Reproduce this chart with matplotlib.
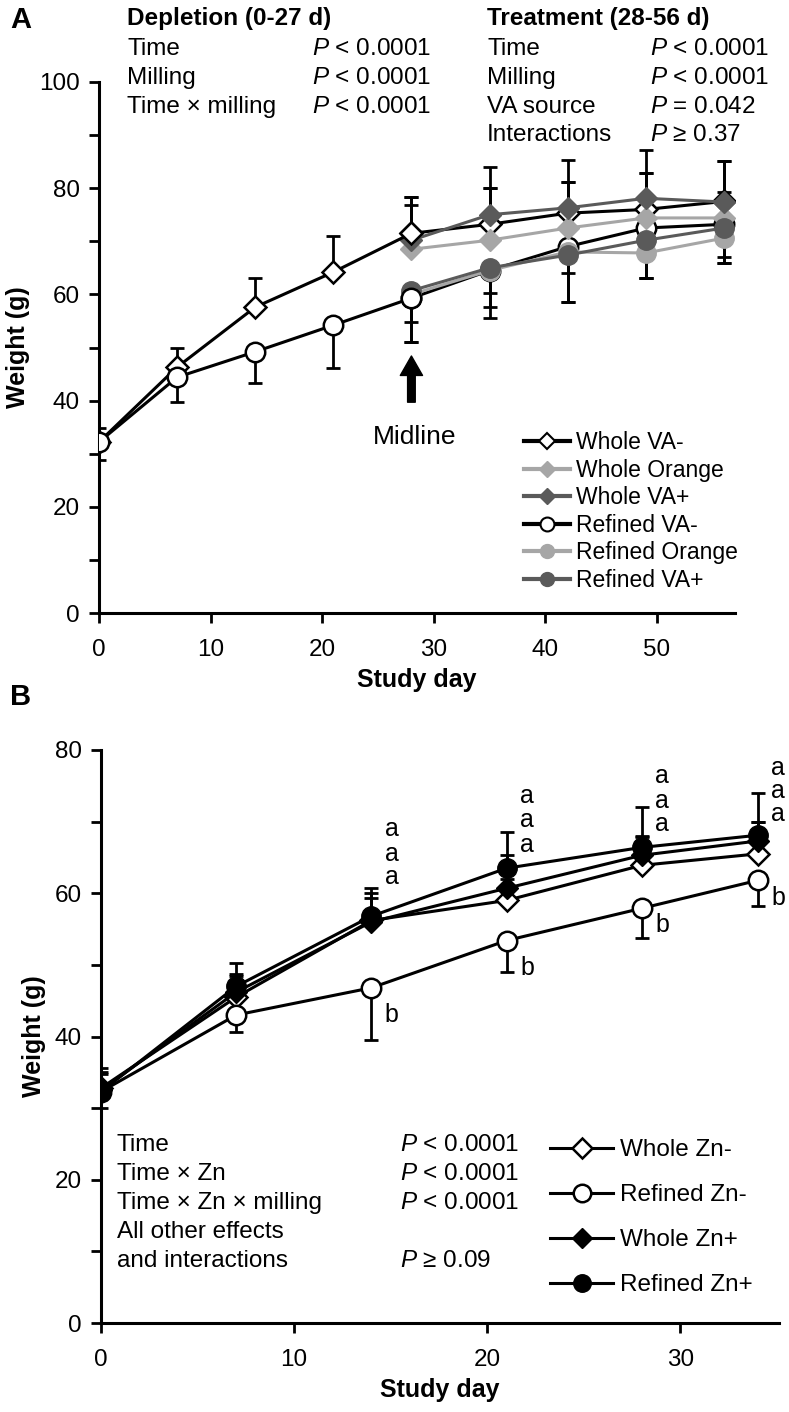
import numpy as np
import matplotlib
matplotlib.use("Agg")
import matplotlib.pyplot as plt

plt.rcParams['font.family'] = ['Liberation Sans', 'DejaVu Sans']
plt.rcParams['mathtext.fontset'] = 'custom'
plt.rcParams['mathtext.rm'] = 'Liberation Sans'
plt.rcParams['mathtext.it'] = 'Liberation Sans:italic'

# ---------------- Panel A data (VA study) ----------------
days_a = [0, 7, 14, 21, 28, 35, 42, 49, 56]
days_trt = [28, 35, 42, 49, 56]

whole_vam = [32.2, 46.3, 57.6, 64.2, 71.5, 73.2, 75.3, 76.0, 77.5]
whole_vam_err = [2.6, 3.7, 5.4, 6.8, 6.8, 6.8, 5.9, 6.9, 7.6]
refined_vam = [32.2, 44.4, 49.2, 54.2, 59.3, 64.5, 69.0, 72.5, 73.2]
refined_vam_err = [3.4, 4.7, 5.9, 8.1, 8.3, 9.0, 10.4, 9.5, 7.3]

whole_orange = [68.5, 70.2, 72.5, 74.4, 74.4]
whole_orange_err = [8.3, 9.8, 8.7, 8.5, 4.9]
whole_vap = [70.2, 75.0, 76.3, 78.1, 77.4]
whole_vap_err = [8.1, 9.0, 9.0, 9.1, 7.7]
refined_orange = [60.0, 64.5, 68.0, 67.8, 70.6]
refined_orange_err = [5.2, 6.8, 4.0, 4.8, 3.6]
refined_vap = [60.7, 65.0, 67.4, 70.2, 72.5]
refined_vap_err = [9.7, 4.8, 8.8, 7.2, 6.6]

# ---------------- Panel B data (Zn study) ----------------
days_b = [0, 7, 14, 21, 28, 34]
whole_znm = [32.8, 45.5, 56.2, 59.0, 63.9, 65.5]
whole_znm_err = [2.0, 3.0, 3.1, 3.0, 4.0, 4.4]
refined_znm = [32.3, 43.0, 46.8, 53.4, 57.9, 61.8]
refined_znm_err = [2.3, 2.4, 7.3, 4.4, 4.2, 3.6]
whole_znp = [32.5, 46.2, 56.0, 60.7, 65.3, 67.3]
whole_znp_err = [2.5, 2.5, 4.0, 4.6, 2.7, 2.6]
refined_znp = [32.3, 47.0, 56.8, 63.5, 66.4, 68.1]
refined_znp_err = [3.3, 3.3, 4.0, 5.0, 5.6, 5.9]

sig_days = [14, 21, 28, 34]
sig_a = [[69.0, 65.5, 62.2], [73.6, 70.2, 66.7], [76.4, 72.9, 69.7], [77.5, 74.3, 71.1]]
sig_b = [43.0, 49.5, 55.5, 59.4]

LIGHT = '#a6a6a6'
DARK = '#5a5a5a'
FS = 17.5

fig = plt.figure(figsize=(7.89, 14.12), dpi=100)


def fx(px):
    return px / 789


def fy(py):
    return 1 - py / 1412


axA = fig.add_axes([fx(99), fy(613), (735 - 99) / 789, (613 - 82) / 1412])
axB = fig.add_axes([fx(101), fy(1323), (779 - 101) / 789, (1323 - 750) / 1412])

# ---------------- Panel A ----------------
ebkw = dict(fmt='none', ecolor='black', elinewidth=2, capsize=5, capthick=2, zorder=1)
axA.errorbar(days_a, whole_vam, yerr=[np.zeros(len(days_a)), whole_vam_err], **ebkw)
axA.errorbar(days_a, refined_vam, yerr=[refined_vam_err, np.zeros(len(days_a))], **ebkw)
axA.errorbar(days_trt, whole_orange, yerr=[np.zeros(5), whole_orange_err], **ebkw)
axA.errorbar(days_trt, whole_vap, yerr=[np.zeros(5), whole_vap_err], **ebkw)
axA.errorbar(days_trt, refined_orange, yerr=[refined_orange_err, np.zeros(5)], **ebkw)
axA.errorbar(days_trt, refined_vap, yerr=[refined_vap_err, np.zeros(5)], **ebkw)

lw = 2.2
axA.plot(days_a[4:], whole_vam[4:], '-D', color='black', mfc='white', mec='black', mew=1.8, ms=11, lw=lw, zorder=3)
axA.plot(days_a[4:], refined_vam[4:], '-o', color='black', mfc='white', mec='black', mew=1.8, ms=14, lw=lw, zorder=3)
axA.plot(days_trt, whole_orange, '-D', color=LIGHT, mfc=LIGHT, mec=LIGHT, ms=11, lw=lw, zorder=3)
axA.plot(days_trt, refined_orange, '-o', color=LIGHT, mfc=LIGHT, mec=LIGHT, ms=14, lw=lw, zorder=3)
axA.plot(days_trt, whole_vap, '-D', color=DARK, mfc=DARK, mec=DARK, ms=11, lw=lw, zorder=3)
axA.plot(days_trt, refined_vap, '-o', color=DARK, mfc=DARK, mec=DARK, ms=14, lw=lw, zorder=3)
axA.plot(days_a[:5], whole_vam[:5], '-D', color='black', mfc='white', mec='black', mew=1.8, ms=11, lw=lw, zorder=4)
axA.plot(days_a[:5], refined_vam[:5], '-o', color='black', mfc='white', mec='black', mew=1.8, ms=14, lw=lw, zorder=4)

# legend handles
hA = [
    axA.plot([], [], '-D', color='black', mfc='white', mec='black', mew=1.5, ms=8, lw=3)[0],
    axA.plot([], [], '-D', color=LIGHT, mfc=LIGHT, mec=LIGHT, ms=8, lw=3)[0],
    axA.plot([], [], '-D', color=DARK, mfc=DARK, mec=DARK, ms=8, lw=3)[0],
    axA.plot([], [], '-o', color='black', mfc='white', mec='black', mew=1.5, ms=10, lw=3)[0],
    axA.plot([], [], '-o', color=LIGHT, mfc=LIGHT, mec=LIGHT, ms=10, lw=3)[0],
    axA.plot([], [], '-o', color=DARK, mfc=DARK, mec=DARK, ms=10, lw=3)[0],
]
labelsA = ['Whole VA-', 'Whole Orange', 'Whole VA+', 'Refined VA-', 'Refined Orange', 'Refined VA+']
fig.legend(hA, labelsA, loc='upper left', bbox_to_anchor=(fx(524), fy(431)), frameon=False,
           fontsize=16.5, handlelength=2.0, handletextpad=0.25, labelspacing=0.2, borderpad=0,
           borderaxespad=0)

# midline arrow
axA.annotate('', xy=(28, 48.4), xytext=(28, 39.7),
             arrowprops=dict(facecolor='black', edgecolor='black', width=5.5, headwidth=16,
                             headlength=14, shrink=0))
axA.text(28.3, 33.1, 'Midline', fontsize=19, ha='center', va='center')

axA.set_xlim(0, 57)
axA.set_ylim(0, 100)
axA.set_xticks([0, 10, 20, 30, 40, 50])
axA.set_yticks(range(0, 101, 10))
axA.set_yticklabels([str(v) if v % 20 == 0 else '' for v in range(0, 101, 10)])

# ---------------- Panel B ----------------
axB.errorbar(days_b, refined_znm, yerr=[refined_znm_err, np.zeros(6)], **ebkw)
axB.errorbar(days_b, whole_znm, yerr=[np.zeros(6), whole_znm_err], **ebkw)
axB.errorbar(days_b, whole_znp, yerr=[np.zeros(6), whole_znp_err], **ebkw)
axB.errorbar(days_b, refined_znp, yerr=[np.zeros(6), refined_znp_err], **ebkw)

hB = [
    axB.plot(days_b, whole_znm, '-D', color='black', mfc='white', mec='black', mew=1.8, ms=11, lw=lw, zorder=3)[0],
    axB.plot(days_b, refined_znm, '-o', color='black', mfc='white', mec='black', mew=1.8, ms=14, lw=lw, zorder=3)[0],
    axB.plot(days_b, whole_znp, '-D', color='black', mfc='black', mec='black', ms=11, lw=lw, zorder=3)[0],
    axB.plot(days_b, refined_znp, '-o', color='black', mfc='black', mec='black', ms=14, lw=lw, zorder=3)[0],
]
labelsB = ['Whole Zn-', 'Refined Zn-', 'Whole Zn+', 'Refined Zn+']
fig.legend(hB, labelsB, loc='upper left', bbox_to_anchor=(fx(550), fy(1139)), frameon=False,
           fontsize=FS, handlelength=2.6, handletextpad=0.3, labelspacing=0.95, borderpad=0,
           borderaxespad=0, markerscale=0.9)

for d, ys, yb in zip(sig_days, sig_a, sig_b):
    for y in ys:
        axB.text(d + 1.05, y, 'a', fontsize=18, ha='center', va='center')
    axB.text(d + 1.05, yb, 'b', fontsize=18, ha='center', va='center')

axB.set_xlim(0, 35.1)
axB.set_ylim(0, 80)
axB.set_xticks([0, 10, 20, 30])
axB.set_yticks(range(0, 81, 10))
axB.set_yticklabels([str(v) if v % 20 == 0 else '' for v in range(0, 81, 10)])

for ax in (axA, axB):
    for s in ('top', 'right'):
        ax.spines[s].set_visible(False)
    for s in ('left', 'bottom'):
        ax.spines[s].set_linewidth(2.2)
    ax.tick_params(direction='out', length=7, width=2, labelsize=FS)
    ax.tick_params(axis='x', pad=12)
    ax.tick_params(axis='y', pad=7)
    ax.set_xlabel('Study day', fontsize=18, fontweight='bold', labelpad=5)
    ax.set_ylabel('Weight (g)', fontsize=18, fontweight='bold', labelpad=6)

# ---------------- header statistics text ----------------
fig.text(fx(10), fy(20), 'A', fontsize=21, fontweight='bold', va='center')
fig.text(fx(10), fy(697), 'B', fontsize=21, fontweight='bold', va='center')

fig.text(fx(127), fy(19), 'Depletion (0-27 d)', fontsize=FS, fontweight='bold', va='center')
fig.text(fx(487), fy(19), 'Treatment (28-56 d)', fontsize=FS, fontweight='bold', va='center')
dep_rows = ['Time', 'Milling', 'Time \u00d7 milling']
dep_p = ['$\\it{P}$ < 0.0001', '$\\it{P}$ < 0.0001', '$\\it{P}$ < 0.0001']
trt_rows = ['Time', 'Milling', 'VA source', 'Interactions']
trt_p = ['$\\it{P}$ < 0.0001', '$\\it{P}$ < 0.0001', '$\\it{P}$ = 0.042', '$\\it{P}$ \u2265 0.37']
row_y = [49, 78, 107, 135]
for i, (r, p) in enumerate(zip(dep_rows, dep_p)):
    fig.text(fx(127), fy(row_y[i]), r, fontsize=FS, va='center')
    fig.text(fx(312), fy(row_y[i]), p, fontsize=FS, va='center')
for i, (r, p) in enumerate(zip(trt_rows, trt_p)):
    fig.text(fx(487), fy(row_y[i]), r, fontsize=FS, va='center')
    fig.text(fx(650), fy(row_y[i]), p, fontsize=FS, va='center')

zn_rows = ['Time', 'Time \u00d7 Zn', 'Time \u00d7 Zn \u00d7 milling', 'All other effects', 'and interactions']
zn_p = ['$\\it{P}$ < 0.0001', '$\\it{P}$ < 0.0001', '$\\it{P}$ < 0.0001', '', '$\\it{P}$ \u2265 0.09']
zn_y = [1145, 1174, 1203, 1232, 1261]
for r, p, y in zip(zn_rows, zn_p, zn_y):
    fig.text(fx(117), fy(y), r, fontsize=FS, va='center')
    if p:
        fig.text(fx(400), fy(y), p, fontsize=FS, va='center')

fig.savefig('out.png', dpi=100)
